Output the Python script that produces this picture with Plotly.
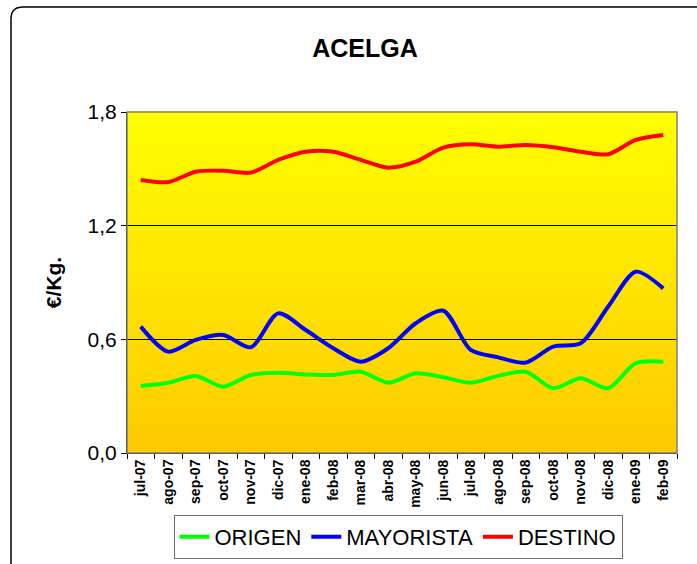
import plotly.graph_objects as go

# Monthly prices (€/Kg) for chard along the supply chain
months = ["jul-07", "ago-07", "sep-07", "oct-07", "nov-07", "dic-07", "ene-08",
          "feb-08", "mar-08", "abr-08", "may-08", "jun-08", "jul-08", "ago-08",
          "sep-08", "oct-08", "nov-08", "dic-08", "ene-09", "feb-09"]

origen = [0.354, 0.371, 0.407, 0.350, 0.412, 0.424, 0.415, 0.412, 0.429, 0.371,
          0.421, 0.400, 0.371, 0.407, 0.429, 0.342, 0.394, 0.342, 0.474, 0.482]

mayorista = [0.667, 0.535, 0.597, 0.623, 0.558, 0.737, 0.649, 0.553, 0.482, 0.553,
             0.685, 0.751, 0.544, 0.505, 0.477, 0.561, 0.579, 0.773, 0.957, 0.869]

destino = [1.441, 1.430, 1.485, 1.490, 1.480, 1.547, 1.590, 1.590, 1.547, 1.506,
           1.538, 1.612, 1.630, 1.617, 1.626, 1.614, 1.590, 1.577, 1.653, 1.679]

series = [("ORIGEN", origen, "#00FF00"),
          ("MAYORISTA", mayorista, "#0000FF"),
          ("DESTINO", destino, "#FF0000")]

W, H = 697, 564
ML, MR, MT, MB = 127, 20, 112, 111
PW, PH = W - ML - MR, H - MT - MB

FONT = "Liberation Sans, Arial, sans-serif"

fig = go.Figure()
for name, vals, color in series:
    fig.add_trace(go.Scatter(
        x=months, y=vals, name=name, mode="lines",
        line=dict(color=color, width=4, shape="spline", smoothing=0.8),
    ))

# vertical yellow gradient behind the plot area
shapes = []
n = 60
top, bot = (255, 255, 0), (255, 202, 0)
for i in range(n):
    t = (i + 0.5) / n
    c = tuple(round(top[k] + (bot[k] - top[k]) * t) for k in range(3))
    shapes.append(dict(
        type="rect", xref="x domain", yref="y domain",
        x0=0, x1=1, y0=1 - (i + 1) / n, y1=1 - i / n + 0.002,
        line=dict(width=0), fillcolor="rgb(%d,%d,%d)" % c, layer="below",
    ))

# grey frame on top and right of the plot area
shapes.append(dict(type="rect", xref="x domain", yref="y domain",
                   x0=0, x1=1, y0=0, y1=1,
                   line=dict(color="#808080", width=1.5), layer="above"))


def px(x):
    return (x - ML) / PW


def py(y):
    return (H - MB - y) / PH


# rounded chart border (open to the right and bottom)
r = 12
bx0, by0, bx1, by1 = 11, 7, 705, 575
path = ("M %f,%f L %f,%f Q %f,%f %f,%f L %f,%f" % (
    px(bx0), py(by1), px(bx0), py(by0 + r), px(bx0), py(by0),
    px(bx0 + r), py(by0), px(bx1), py(by0)))
shapes.append(dict(type="path", xref="paper", yref="paper", path=path,
                   line=dict(color="#000000", width=1.5)))

fig.update_layout(
    width=W, height=H,
    margin=dict(l=ML, r=MR, t=MT, b=MB),
    paper_bgcolor="white",
    plot_bgcolor="#FFE000",
    separators=",.",
    font=dict(family=FONT, color="black"),
    title=dict(text="<b>ACELGA</b>", x=365 / W, xanchor="center",
               y=1 - 48 / H, yanchor="middle",
               font=dict(size=25, family=FONT)),
    shapes=shapes,
    showlegend=True,
    legend=dict(
        orientation="h", xref="container", yref="container",
        x=398 / W, xanchor="center", y=1 - 559 / H, yanchor="bottom",
        bordercolor="#6e6e6e", borderwidth=1, bgcolor="white",
        font=dict(size=22, family=FONT), itemwidth=30, tracegroupgap=0,
    ),
)

fig.update_xaxes(
    type="category", showgrid=False, tickson="boundaries",
    ticks="outside", ticklen=5, tickcolor="black",
    tickangle=-90, tickfont=dict(size=14, family=FONT, weight="bold"),
    showline=True, linecolor="black", linewidth=1,
    range=[-0.5, len(months) - 0.5], automargin=False,
)
fig.update_yaxes(
    range=[0, 1.8], dtick=0.6, tickformat=".1f",
    showgrid=True, gridcolor="black", gridwidth=1,
    ticks="outside", ticklen=5, tickcolor="black",
    tickfont=dict(size=21, family=FONT),
    showline=True, linecolor="black", linewidth=1,
    zeroline=False, automargin=False,
    title=dict(text="<b>€/Kg.</b>", font=dict(size=21, family=FONT), standoff=20),
)

fig.write_html("out.html")
